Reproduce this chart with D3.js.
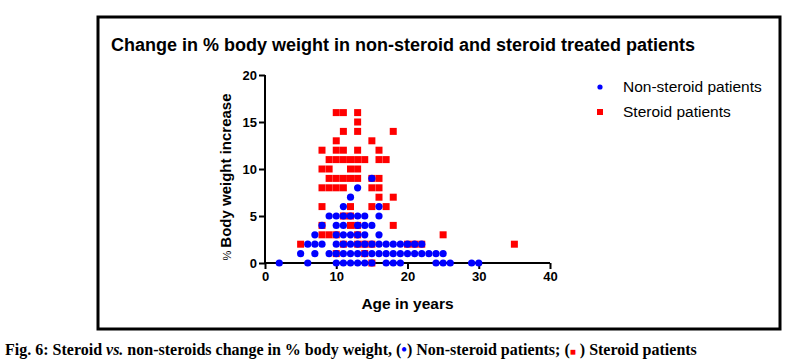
<!DOCTYPE html>
<meta charset="utf-8">
<html>
<head>
<title>body weight change</title>
<style>
    body { margin: 0; background: #fff; }
    svg { display: block; }
</style>
<script src="https://d3js.org/d3.v7.min.js"></script>
</head>
<body>
<div id="chart"></div>
<script>

// ##### data (age in years, % body weight increase) #####
var nonSteroid = [
  [2,0],[6,0],[10,0],[11,0],[12,0],[13,0],[14,0],[15,0],[17,0],[18,0],[19,0],[24,0],[25,0],[26,0],[29,0],[30,0],
  [5,1],[7,1],[9,1],[10,1],[11,1],[12,1],[13,1],[14,1],[15,1],[16,1],[17,1],[18,1],[19,1],[20,1],[21,1],[22,1],[23,1],[24,1],[25,1],
  [6,2],[7,2],[8,2],[10,2],[11,2],[12,2],[13,2],[14,2],[15,2],[16,2],[17,2],[18,2],[19,2],[20,2],[21,2],[22,2],
  [7,3],[10,3],[11,3],[12,3],[13,3],[14,3],[16,3],
  [8,4],[10,4],[11,4],[13,4],[14,4],[15,4],
  [9,5],[10,5],[11,5],[12,5],[13,5],[14,5],[16,5],
  [11,6],[16,6],
  [12,7],
  [13,8],
  [15,9]
];

var steroid = [
  [15,0],
  [10,1],[14,1],
  [5,2],[11,2],[13,2],[14,2],[15,2],[20,2],[21,2],[22,2],[35,2],
  [8,3],[9,3],[10,3],[13,3],[25,3],
  [8,4],[12,4],[13,4],[18,4],
  [11,5],[12,5],
  [8,6],[12,6],[15,6],[17,6],
  [16,7],[18,7],
  [8,8],[9,8],[10,8],[11,8],[15,8],[16,8],
  [9,9],[10,9],[11,9],[12,9],[13,9],[15,9],[16,9],
  [8,10],[9,10],[12,10],[13,10],
  [9,11],[10,11],[11,11],[12,11],[13,11],[14,11],[16,11],[17,11],
  [8,12],[10,12],[11,12],[13,12],[16,12],
  [10,13],[15,13],
  [11,14],[13,14],[18,14],
  [13,15],
  [10,16],[11,16],[13,16]
];

var xTicks = [0, 10, 20, 30, 40];
var yTicks = [0, 5, 10, 15, 20];
var legendLabels = ["Non-steroid patients", "Steroid patients"];

// ##### setup #####
var W = 791, H = 364;
var sans = "Arial, 'Liberation Sans', sans-serif";
var svg = d3.select("#chart").append("svg")
    .attr("width", W)
    .attr("height", H);

svg.append("rect").attr("width", W).attr("height", H).attr("fill", "#fff");

// outer frame of the figure
svg.append("rect")
    .attr("x", 98).attr("y", 17)
    .attr("width", 682).attr("height", 312)
    .attr("fill", "none")
    .attr("stroke", "#000")
    .attr("stroke-width", 3);

// title
svg.append("text")
    .attr("x", 111).attr("y", 51)
    .style("font-family", sans)
    .style("font-weight", "bold")
    .style("font-size", "18px")
    .text("Change in % body weight in non-steroid and steroid treated patients");

// scales
var x = d3.scaleLinear().domain([0, 40]).range([265, 550]);
var y = d3.scaleLinear().domain([0, 20]).range([263, 75]);

// axes
var xAxis = svg.append("g")
    .attr("transform", "translate(0," + y(0) + ")")
    .call(d3.axisBottom(x).tickValues(xTicks).tickSize(6).tickPadding(3));

var yAxis = svg.append("g")
    .attr("transform", "translate(" + x(0) + ",0)")
    .call(d3.axisLeft(y).tickValues(yTicks).tickSize(6).tickPadding(2));

[xAxis, yAxis].forEach(function(a) {
  a.selectAll("path, line").attr("stroke", "#000").attr("stroke-width", 2);
  a.select(".domain").attr("d", a === xAxis ?
      "M" + x(0) + ",0H" + x(40) : "M0," + y(0) + "V" + y(20));
  a.selectAll("text")
      .style("font-family", sans)
      .style("font-weight", "bold")
      .style("font-size", "13px")
      .attr("fill", "#000");
});

// axis titles
svg.append("text")
    .attr("x", (x(0) + x(40)) / 2).attr("y", 309)
    .attr("text-anchor", "middle")
    .style("font-family", sans)
    .style("font-weight", "bold")
    .style("font-size", "15.5px")
    .text("Age in years");

var yl = svg.append("text")
    .attr("transform", "translate(231," + ((y(0) + y(20)) / 2 + 8) + ") rotate(-90)")
    .attr("text-anchor", "middle")
    .style("font-family", sans)
    .style("font-weight", "bold")
    .style("font-size", "15px");
yl.append("tspan").style("font-size", "11px").style("font-weight", "normal").text("% ");
yl.append("tspan").text("Body weight increase");

// ##### points #####
var sq = 7;
svg.append("g").selectAll("rect")
    .data(steroid)
  .enter().append("rect")
    .attr("x", function(d) { return x(d[0]) - sq / 2; })
    .attr("y", function(d) { return y(d[1]) - sq / 2; })
    .attr("width", sq).attr("height", sq)
    .attr("fill", "#ff0000");

svg.append("g").selectAll("circle")
    .data(nonSteroid)
  .enter().append("circle")
    .attr("cx", function(d) { return x(d[0]); })
    .attr("cy", function(d) { return y(d[1]); })
    .attr("r", 3.6)
    .attr("fill", "#0000ff");

// ##### legend #####
var leg = svg.append("g").attr("transform", "translate(600,87)");
leg.append("circle").attr("cx", 0).attr("cy", 0).attr("r", 2.6).attr("fill", "#0000ff");
leg.append("rect").attr("x", -3).attr("y", 22).attr("width", 6).attr("height", 6).attr("fill", "#ff0000");
leg.selectAll("text")
    .data(legendLabels)
  .enter().append("text")
    .attr("x", 23)
    .attr("y", function(d, i) { return i * 25 + 5; })
    .style("font-family", sans)
    .style("font-size", "15.5px")
    .text(function(d) { return d; });

// ##### caption #####
var cap = svg.append("text")
    .attr("x", 5).attr("y", 355)
    .style("font-family", "'Liberation Serif', 'Times New Roman', serif")
    .style("font-weight", "bold")
    .style("font-size", "16px");
cap.append("tspan").text("Fig. 6: Steroid ");
cap.append("tspan").style("font-style", "italic").text("vs.");
cap.append("tspan").text(" non-steroids change in % body weight, (");
cap.append("tspan").attr("fill", "#0000ff").text("\u2022");
cap.append("tspan").text(") Non-steroid patients; (");
cap.append("tspan").attr("fill", "#ff0000").style("font-size", "10px").text("\u25A0");
cap.append("tspan").text(" ) Steroid patients");

</script>
</body>
</html>
